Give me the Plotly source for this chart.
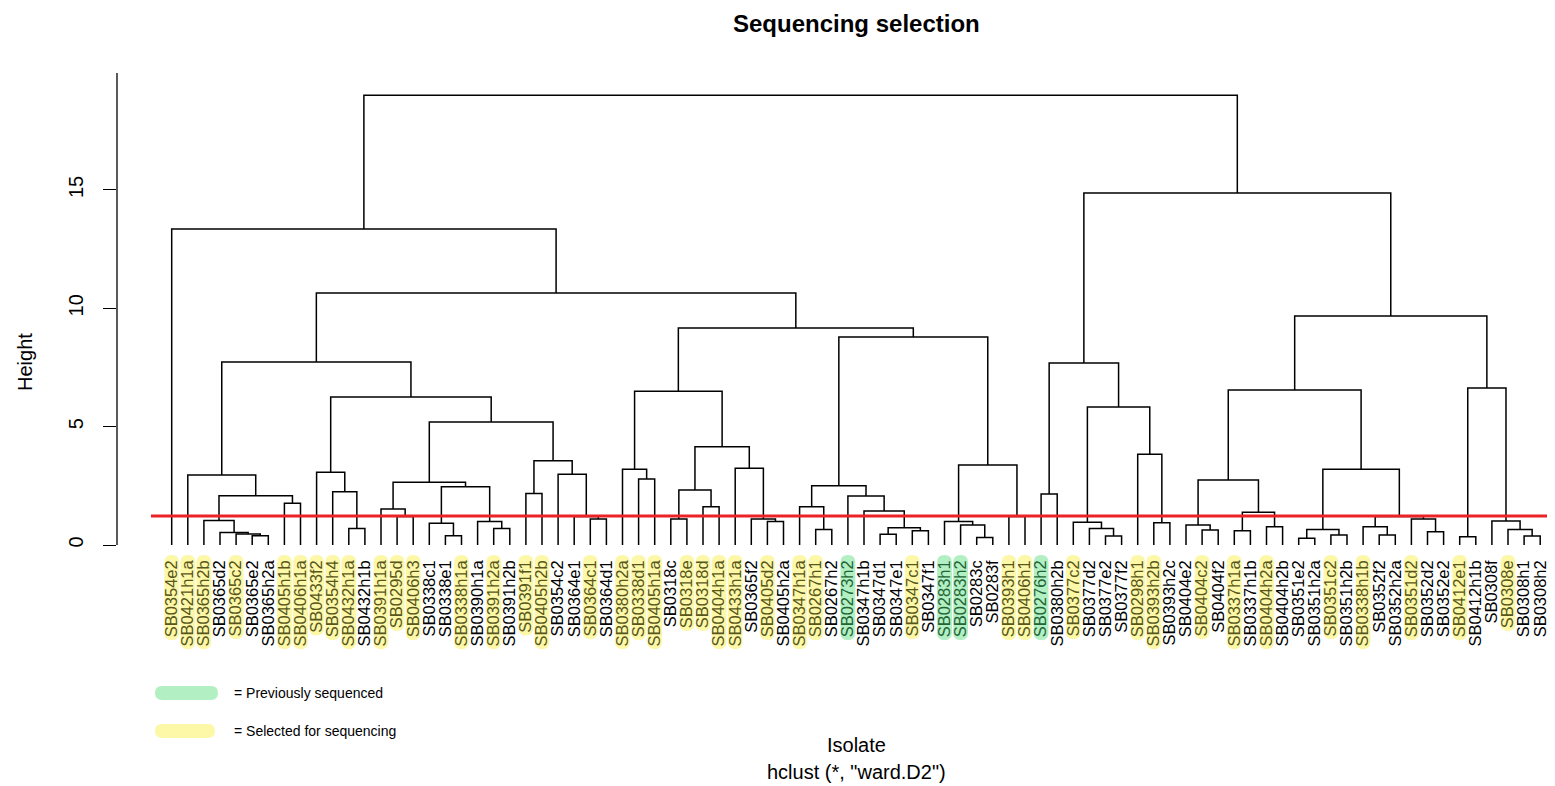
import plotly.graph_objects as go

# ---------------- data ----------------
labels = ["SB0354e2", "SB0421h1a", "SB0365h2b", "SB0365d2", "SB0365c2", "SB0365e2", "SB0365h2a",
          "SB0405h1b", "SB0406h1a", "SB0433f2", "SB0354h4", "SB0432h1a", "SB0432h1b", "SB0391h1a",
          "SB0295d", "SB0406h3", "SB0338c1", "SB0338e1", "SB0338h1a", "SB0390h1a", "SB0391h2a",
          "SB0391h2b", "SB0391f1", "SB0405h2b", "SB0354c2", "SB0364e1", "SB0364c1", "SB0364d1",
          "SB0380h2a", "SB0338d1", "SB0405h1a", "SB0318c", "SB0318e", "SB0318d", "SB0404h1a",
          "SB0433h1a", "SB0365f2", "SB0405d2", "SB0405h2a", "SB0347h1a", "SB0267h1", "SB0267h2",
          "SB0273h2", "SB0347h1b", "SB0347d1", "SB0347e1", "SB0347c1", "SB0347f1", "SB0283h1",
          "SB0283h2", "SB0283c", "SB0283f", "SB0393h1", "SB0406h1", "SB0276h2", "SB0380h2b",
          "SB0377c2", "SB0377d2", "SB0377e2", "SB0377f2", "SB0298h1", "SB0393h2b", "SB0393h2c",
          "SB0404e2", "SB0404c2", "SB0404f2", "SB0337h1a", "SB0337h1b", "SB0404h2a", "SB0404h2b",
          "SB0351e2", "SB0351h2a", "SB0351c2", "SB0351h2b", "SB0338h1b", "SB0352f2", "SB0352h2a",
          "SB0351d2", "SB0352d2", "SB0352e2", "SB0412e1", "SB0412h1b", "SB0308f", "SB0308e",
          "SB0308h1", "SB0308h2"]

# Y = selected for sequencing, G = previously sequenced
status = ["Y", "Y", "Y", "", "Y", "", "", "Y", "Y", "Y", "Y", "Y", "", "Y",
          "Y", "Y", "", "", "Y", "", "Y", "", "Y", "Y", "", "", "Y", "",
          "Y", "Y", "Y", "", "Y", "Y", "Y", "Y", "", "Y", "", "Y", "Y", "",
          "G", "", "", "", "Y", "", "G", "G", "", "", "Y", "Y", "G", "",
          "Y", "", "", "", "Y", "Y", "", "", "Y", "", "Y", "", "Y", "",
          "", "", "Y", "", "Y", "", "", "Y", "", "", "Y", "", "", "Y", "", ""]

# hclust-style merge table: negative = leaf (1-based, in display order), positive = earlier merge row
merge_a = [-6, -5, -4, -3, -8, 4, -2, -12, -11, -10, -15, -14, -18, -17, -21, -20, 14, 12, -23, -27,
           -26, -25, 19, 18, 10, 7, -30, -29, -32, -34, 29, -38, -37, -36, 31, 28, -41, -40, -45, -47,
           39, -44, -43, 38, -51, -50, -49, -53, 47, 44, 36, 26, -1, -55, -59, -58, -57, -62, -61, 57,
           54, -65, -64, -67, -69, 64, 63, -71, -73, 68, -76, -75, -79, -78, 72, 70, 67, -81, -85, -84,
           -83, 78, 77, 61, 53]
merge_b = [-7, 1, 2, 3, -9, 5, 6, -13, 8, 9, -16, 11, -19, 13, -22, 15, 16, 17, -24, -28,
           20, 21, 22, 23, 24, 25, -31, 27, -33, -35, 30, -39, 32, 33, 34, 35, -42, 37, -46, -48,
           40, 41, 42, 43, -52, 45, 46, -54, 48, 49, 50, 51, 52, -56, -60, 55, 56, -63, 58, 59,
           60, -66, 62, -68, -70, 65, 66, -72, -74, 69, -77, 71, -80, 73, 74, 75, 76, -82, -86, 79,
           80, 81, 82, 83, 84]
merge_h = [0.39, 0.46, 0.53, 1.03, 1.76, 2.08, 2.96, 0.70, 2.25, 3.07, 1.20, 1.52, 0.39, 0.92, 0.70,
           0.99, 2.46, 2.65, 2.18, 1.10, 1.20, 2.99, 3.56, 5.20, 6.25, 7.73, 2.79, 3.20, 1.10, 1.62,
           2.32, 0.99, 1.10, 3.24, 4.15, 6.50, 0.66, 1.62, 0.45, 0.60, 0.73, 1.44, 2.07, 2.50, 0.32,
           0.85, 0.99, 1.20, 3.38, 8.79, 9.17, 10.65, 13.35, 2.15, 0.38, 0.70, 0.96, 0.94, 3.83, 5.83,
           7.69, 0.63, 0.85, 0.60, 0.77, 1.38, 2.75, 0.28, 0.42, 0.66, 0.42, 0.77, 0.56, 1.10, 1.20,
           3.20, 6.55, 0.35, 0.38, 0.66, 1.01, 6.63, 9.67, 14.87, 19.00]

cut_height = 1.23
y_ticks = [0, 5, 10, 15]

# ---------------- layout geometry (reference pixel coords; page body margin = OFF) ----------------
OFF = 8
W, H = 1555 - OFF, 786 - OFF
AXIS_PX, TOP_PX, BOT_PX = 117, 60, 556      # plot area in reference pixels
ML, MT = AXIS_PX - OFF, TOP_PX - OFF
MR, MB = 0, H - (BOT_PX - OFF)
PW, PH = W - ML - MR, H - MT - MB
LEAF0_PX, LEAF_STEP = 171.7, 16.1
X0 = 1 - (LEAF0_PX - AXIS_PX) / LEAF_STEP
X1 = X0 + PW / LEAF_STEP
Y_PER_UNIT = 23.67
BASE_PX = 545
Y0 = -(BOT_PX - BASE_PX) / Y_PER_UNIT
Y1 = Y0 + PH / Y_PER_UNIT

FONT = "Liberation Sans, Arial, sans-serif"
YEL, YEL_TXT = "#fcf8a8", "#58561a"
GRN, GRN_TXT = "#b2efc2", "#1f6536"


def py_to_paper(py):
    return (BOT_PX - py) / PH


def px_to_paper(px):
    return (px - AXIS_PX) / PW


# ---------------- dendrogram segments ----------------
node_x, node_h = [], []


def pos(k):
    if k < 0:
        return float(-k), 0.0
    return node_x[k - 1], node_h[k - 1]


xs, ys = [], []
for a, b, h in zip(merge_a, merge_b, merge_h):
    xa, ha = pos(a)
    xb, hb = pos(b)
    xs += [xa, xa, xb, xb, None]
    ys += [ha, h, h, hb, None]
    node_x.append((xa + xb) / 2)
    node_h.append(h)

fig = go.Figure()
fig.add_trace(go.Scatter(x=xs, y=ys, mode="lines", line=dict(color="black", width=1.5),
                         hoverinfo="skip", showlegend=False))

# ---------------- label highlights ----------------
CW = {"S": 0.667, "B": 0.667, "a": 0.556, "b": 0.556, "c": 0.5, "d": 0.556, "e": 0.556,
      "f": 0.278, "h": 0.556}
LABEL_FS = 16.5
LABEL_END_PX = 559


def text_len(s):
    return sum(CW.get(ch, 0.556) for ch in s) * LABEL_FS


def pill(xc, hw, top, bot, color):
    ry = (hw * LEAF_STEP) / PH
    x0, x1 = xc - hw, xc + hw
    p = (f"M {x0},{top - ry} Q {x0},{top} {xc},{top} Q {x1},{top} {x1},{top - ry} "
         f"L {x1},{bot + ry} Q {x1},{bot} {xc},{bot} Q {x0},{bot} {x0},{bot + ry} Z")
    return dict(type="path", path=p, xref="x", yref="paper", fillcolor=color,
                line=dict(width=0), layer="below")


shapes = []
ticktext = []
for i, (lab, st) in enumerate(zip(labels, status), start=1):
    if st:
        col = YEL if st == "Y" else GRN
        L = text_len(lab)
        top = py_to_paper(LABEL_END_PX - 4)
        bot = py_to_paper(LABEL_END_PX + L + 4)
        shapes.append(pill(i, 7.4 / LEAF_STEP, top, bot, col))
        tc = YEL_TXT if st == "Y" else GRN_TXT
        ticktext.append(f"<span style='color:{tc}'>{lab}</span>")
    else:
        ticktext.append(lab)

# legend pills
for (pxa, pxb, pyc, col) in [(155, 218, 693, GRN), (155, 215, 731, YEL)]:
    hwp = 7 / PW
    xa, xb = px_to_paper(pxa), px_to_paper(pxb)
    top, bot = py_to_paper(pyc - 7), py_to_paper(pyc + 7)
    p = (f"M {xa + hwp},{top} L {xb - hwp},{top} Q {xb},{top} {xb},{(top + bot) / 2} "
         f"Q {xb},{bot} {xb - hwp},{bot} L {xa + hwp},{bot} Q {xa},{bot} {xa},{(top + bot) / 2} "
         f"Q {xa},{top} {xa + hwp},{top} Z")
    shapes.append(dict(type="path", path=p, xref="paper", yref="paper", fillcolor=col,
                       line=dict(width=0), layer="below"))

# cut line
shapes.append(dict(type="line", xref="x", yref="y", x0=X0 + (151 - AXIS_PX) / LEAF_STEP, x1=X1,
                   y0=cut_height, y1=cut_height, line=dict(color="#ec2227", width=3), layer="above"))
# y axis line
shapes.append(dict(type="line", xref="paper", yref="y", x0=0, x1=0, y0=0, y1=19.94,
                   line=dict(color="black", width=1.3)))


def ann(text, px, py, size, **kw):
    d = dict(text=text, x=px_to_paper(px), y=py_to_paper(py), xref="paper", yref="paper",
             showarrow=False, xanchor="center", yanchor="middle",
             font=dict(size=size, color="black", family=FONT))
    d.update(kw)
    return d


annotations = [
    ann("<b>Sequencing selection</b>", 856, OFF, 24, yanchor="top"),
    ann("Height", 25, 362, 20, textangle=-90),
    ann("Isolate", 856, 745, 20),
    ann('hclust (*, "ward.D2")', 856, 772, 20),
    ann("= Previously sequenced", 232, 693, 14, xanchor="left"),
    ann("= Selected for sequencing", 232, 731, 14, xanchor="left"),
]

fig.update_layout(
    width=W, height=H, autosize=False,
    margin=dict(l=ML, r=MR, t=MT, b=MB, pad=0),
    paper_bgcolor="white", plot_bgcolor="white",
    showlegend=False,
    shapes=shapes, annotations=annotations,
    xaxis=dict(range=[X0, X1], tickvals=list(range(1, len(labels) + 1)), ticktext=ticktext,
               tickangle=-90, tickfont=dict(size=LABEL_FS, color="black", family=FONT),
               showgrid=False, zeroline=False, showline=False, ticks="", fixedrange=True),
    yaxis=dict(range=[Y0, Y1], tickvals=y_ticks, ticks="outside", ticklen=13, tickwidth=1.3,
               tickcolor="black", tickangle=-90, tickfont=dict(size=20, color="black", family=FONT),
               ticklabelstandoff=12,
               showgrid=False, zeroline=False, showline=False, fixedrange=True),
)

fig.write_html("out.html")
